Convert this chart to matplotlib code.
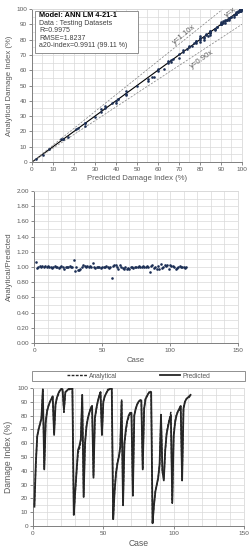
import matplotlib
matplotlib.use("Agg")
import matplotlib.pyplot as plt
import numpy as np
from matplotlib.ticker import MultipleLocator

# ---- data ----
predicted = [
    14, 45, 65, 70, 74, 78, 99, 41,            # 1-8
    75, 83, 87, 90, 92, 94, 66,                # 9-15
    88, 93, 96, 98, 99, 99, 84,                # 16-22
    97, 98, 99, 99, 99.5, 100, 8,              # 23-29
    25, 40, 55, 58, 63, 95, 21,                # 30-36
    60, 72, 78, 82, 85, 87, 35,                # 37-43
    78, 85, 90, 94, 97, 66,                    # 44-49
    90, 94, 96, 98, 99, 99.5, 99.5, 5,         # 50-57
    25, 38, 45, 50, 57, 90, 15,                # 58-64
    60, 70, 76, 80, 82, 82, 22,                # 65-71
    80, 85, 88, 90, 91, 91, 41,                # 72-78
    85, 92, 94, 96, 97, 97, 2,                 # 79-85
    15, 25, 30, 35, 45, 80, 40, 33,            # 86-93
    55, 67, 72, 77, 80, 17,                    # 94-99
    65, 75, 80, 83, 85, 87, 33,                # 100-106
    85, 90, 92, 93, 94, 95,                    # 107-112
]
ratio = [
    1.06, 0.99, 1.00, 1.01, 1.00, 1.01, 1.00, 1.01,          # 1-8
    1.00, 1.01, 1.00, 1.00, 0.99, 1.00, 1.01,                # 9-15
    1.00, 1.00, 0.99, 1.00, 1.01, 1.00, 0.98,                # 16-22
    1.00, 1.00, 1.00, 1.01, 1.00, 1.00, 1.09,                # 23-29
    0.95, 1.00, 0.96, 0.96, 0.97, 1.00, 1.02,                # 30-36
    1.01, 1.00, 1.01, 1.00, 1.01, 1.00, 1.05,                # 37-43
    1.00, 0.99, 1.00, 1.00, 1.00, 0.99,                      # 44-49
    1.00, 1.00, 1.00, 1.01, 1.00, 0.99, 1.00, 0.85,          # 50-57
    1.01, 1.02, 1.03, 1.00, 0.98, 1.02, 1.00,                # 58-64
    0.99, 0.97, 1.00, 0.98, 0.99, 0.97, 1.00,                # 65-71
    1.00, 0.99, 1.00, 1.00, 1.00, 1.01, 1.00,                # 72-78
    1.00, 1.01, 1.00, 1.00, 1.01, 1.00, 0.94,                # 79-85
    1.01, 1.02, 0.99, 1.00, 0.98, 1.01, 0.97, 1.04,          # 86-93
    0.99, 1.00, 1.02, 1.01, 1.03, 0.97,                      # 94-99
    1.02, 1.01, 1.01, 1.00, 0.98, 0.99, 1.00,                # 100-106
    1.01, 1.00, 1.00, 1.00, 0.99, 1.00,                      # 107-112
]
assert len(predicted) == len(ratio) == 112
predicted = np.array(predicted, dtype=float)
ratio = np.array(ratio, dtype=float)
analytical = predicted * ratio
cases = np.arange(1, len(predicted) + 1)

info_lines = ["Model: ANN LM 4-21-1", "Data : Testing Datasets", "R=0.9975",
              "RMSE=1.8237", "a20-index=0.9911 (99.11 %)"]

# ---- styles ----
W, H = 251, 550
fig = plt.figure(figsize=(W / 100, H / 100), dpi=100)
plt.rcParams['font.family'] = ['Liberation Sans', 'DejaVu Sans']
txtc = '#595959'
gridc = '#d9d9d9'
dotc = '#1c2f55'
fs_tick = 4.6
fs_lab = 5.6


def style_axes(ax):
    ax.grid(True, which='both', color=gridc, lw=0.5, zorder=0)
    ax.set_axisbelow(True)
    for s in ['top', 'right']:
        ax.spines[s].set_color(gridc)
        ax.spines[s].set_linewidth(0.6)
    for s in ['left', 'bottom']:
        ax.spines[s].set_color('#7f7f7f')
        ax.spines[s].set_linewidth(0.7)
    ax.tick_params(which='major', labelsize=fs_tick, colors=txtc, length=2, width=0.5, pad=1.5)
    ax.tick_params(which='minor', length=0)


def fx(px):
    return px / W


def fy(py):
    return 1 - py / H


# ---- top panel: scatter ----
ax1 = fig.add_axes([fx(32), fy(162), fx(242) - fx(32), fy(9) - fy(162)])
style_axes(ax1)
ax1.set_xlim(0, 100)
ax1.set_ylim(0, 100)
ax1.xaxis.set_major_locator(MultipleLocator(10))
ax1.yaxis.set_major_locator(MultipleLocator(10))
ax1.xaxis.set_minor_locator(MultipleLocator(5))
ax1.yaxis.set_minor_locator(MultipleLocator(5))
xx = np.array([0, 100])
ax1.plot(xx, xx, color='black', lw=0.8, zorder=2)
ax1.plot(xx, 1.1 * xx, color='#808080', lw=0.5, ls=(0, (3, 2)), zorder=2)
ax1.plot(xx, 0.9 * xx, color='#808080', lw=0.5, ls=(0, (3, 2)), zorder=2)
ax1.scatter(predicted, analytical, s=3.5, color=dotc, zorder=3, linewidths=0)
ax1.set_xlabel('Predicted Damage Index (%)', fontsize=fs_lab, color=txtc, labelpad=2)
ax1.set_ylabel('Analytical Damage Index (%)', fontsize=fs_lab, color=txtc, labelpad=2)
ax1.text(72.5, 83, 'y=1.10x', rotation=39, fontsize=fs_lab, color=txtc, ha='center', va='center')
ax1.text(81, 67, 'y=0.90x', rotation=35, fontsize=fs_lab, color=txtc, ha='center', va='center')
ax1.text(94.5, 97.5, 'y=x', rotation=37, fontsize=fs_lab, color=txtc, ha='center', va='center')
# info box
ax1.add_patch(plt.Rectangle((1.5, 71), 49, 27.5, transform=ax1.transData,
                            facecolor='white', edgecolor='#7f7f7f', lw=0.6, zorder=4))
ys = [95.5, 90.5, 85.8, 81.0, 76.2]
for i, (t, y) in enumerate(zip(info_lines, ys)):
    ax1.text(3.5, y, t, fontsize=5.3 if i == 0 else 5.0,
             fontweight='bold' if i == 0 else 'normal',
             color='black' if i == 0 else '#404040', va='center', zorder=5)

# ---- middle panel: ratio ----
ax2 = fig.add_axes([fx(34.3), fy(343), fx(238) - fx(34.3), fy(191) - fy(343)])
style_axes(ax2)
ax2.set_xlim(0, 150)
ax2.set_ylim(0, 2)
ax2.xaxis.set_major_locator(MultipleLocator(50))
ax2.xaxis.set_minor_locator(MultipleLocator(10))
ax2.yaxis.set_major_locator(MultipleLocator(0.2))
ax2.yaxis.set_minor_locator(MultipleLocator(0.1))
ax2.yaxis.set_major_formatter(matplotlib.ticker.FormatStrFormatter('%.2f'))
ax2.scatter(cases, analytical / predicted, s=3.5, color=dotc, zorder=3, linewidths=0)
ax2.set_xlabel('Case', fontsize=fs_lab, color=txtc, labelpad=3)
ax2.set_ylabel('Analytical/Predicted', fontsize=fs_lab, color=txtc, labelpad=3)

# ---- bottom panel: series ----
ax3 = fig.add_axes([fx(33), fy(526), fx(244) - fx(33), fy(388) - fy(526)])
style_axes(ax3)
ax3.set_xlim(0, 150)
ax3.set_ylim(0, 100)
ax3.xaxis.set_major_locator(MultipleLocator(50))
ax3.xaxis.set_minor_locator(MultipleLocator(10))
ax3.yaxis.set_major_locator(MultipleLocator(10))
ax3.yaxis.set_minor_locator(MultipleLocator(5))
l1, = ax3.plot(cases, analytical, color='#262626', lw=1.0, ls=(0, (2, 1)), zorder=3, label='Analytical')
l2, = ax3.plot(cases, predicted, color='#262626', lw=1.3, zorder=3, label='Predicted')
ax3.set_xlabel('Case', fontsize=fs_lab + 0.6, color=txtc, labelpad=2)
ax3.set_ylabel('Damage Index (%)', fontsize=fs_lab + 0.6, color=txtc, labelpad=3)

# legend box spanning the panel width
fig.patches.append(plt.Rectangle((fx(32), fy(381)), fx(245) - fx(32), fy(371) - fy(381),
                                 transform=fig.transFigure, facecolor='white',
                                 edgecolor='#7f7f7f', lw=0.6))
leg = fig.legend(handles=[l1, l2], loc='center',
                 bbox_to_anchor=((fx(32) + fx(245)) / 2, (fy(381) + fy(371)) / 2),
                 ncol=2, fontsize=4.8, frameon=False,
                 borderaxespad=0, borderpad=0, handlelength=3.0, handletextpad=0.3,
                 columnspacing=6.5, labelcolor=txtc)

fig.savefig('out.png', dpi=100)
